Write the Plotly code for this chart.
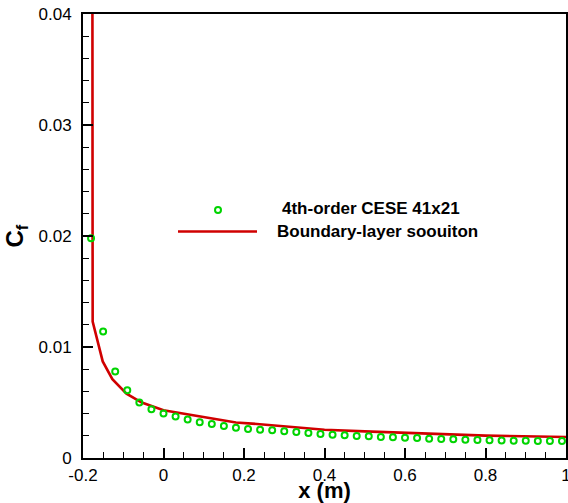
import plotly.graph_objects as go

# Skin-friction coefficient along the plate
# CESE solution (41x21 grid) sampled at the cell locations
cese_x = [-0.18, -0.15, -0.12, -0.09, -0.06, -0.03, 0.00, 0.03, 0.06, 0.09,
          0.12, 0.15, 0.18, 0.21, 0.24, 0.27, 0.30, 0.33, 0.36, 0.39,
          0.42, 0.45, 0.48, 0.51, 0.54, 0.57, 0.60, 0.63, 0.66, 0.69,
          0.72, 0.75, 0.78, 0.81, 0.84, 0.87, 0.90, 0.93, 0.96, 0.99]
cese_cf = [0.0198, 0.0114, 0.0078, 0.0061, 0.0050, 0.0044, 0.0040, 0.00373, 0.00346, 0.00321,
           0.00306, 0.00288, 0.00273, 0.00261, 0.00255, 0.00249, 0.00240, 0.00234, 0.00225, 0.00216,
           0.00210, 0.00204, 0.00198, 0.00195, 0.00189, 0.00186, 0.00183, 0.00180, 0.00173, 0.00171,
           0.00168, 0.00165, 0.00162, 0.00159, 0.00157, 0.00156, 0.00155, 0.00154, 0.00154, 0.00153]

# Boundary-layer (similarity) solution
bl_x = [-0.177, -0.176, -0.151, -0.127, -0.092, -0.054, 0.00, 0.05, 0.09,
        0.18, 0.22, 0.34, 0.40, 0.50, 0.60, 0.67, 0.80, 1.00]
bl_cf = [0.0600, 0.0123, 0.0087, 0.0071, 0.0058, 0.0050, 0.0043, 0.0040, 0.0037,
         0.0032, 0.0031, 0.00272, 0.00255, 0.00240, 0.00226, 0.00216, 0.00202, 0.00189]

x_ticks = [-0.2, 0, 0.2, 0.4, 0.6, 0.8, 1]
x_labels = ["-0.2", "0", "0.2", "0.4", "0.6", "0.8", "1"]
y_ticks = [0, 0.01, 0.02, 0.03, 0.04]
y_labels = ["0", "0.01", "0.02", "0.03", "0.04"]

legend_names = ["4th-order CESE 41x21", "Boundary-layer soouiton"]

GREEN = "#00d400"
RED = "#d00000"
FONT = "Liberation Sans, Arial, Helvetica, sans-serif"

W, H = 568, 503
ML, MR, MT, MB = 83, 2, 14, 45
PW, PH = W - ML - MR, H - MT - MB


def px_to_paper(px, py):
    return (px - ML) / PW, (H - MB - py) / PH


fig = go.Figure()
fig.add_trace(go.Scatter(
    x=bl_x, y=bl_cf, mode="lines", name=legend_names[1],
    line=dict(color=RED, width=2.6), showlegend=False,
))
fig.add_trace(go.Scatter(
    x=cese_x, y=cese_cf, mode="markers", name=legend_names[0],
    marker=dict(symbol="circle-open", size=6, color=GREEN, line=dict(color=GREEN, width=2)),
    showlegend=False,
))

axis_common = dict(
    showline=True, linecolor="black", linewidth=2, mirror=True,
    ticks="inside", tickcolor="black", tickwidth=2, ticklen=10,
    showgrid=False, zeroline=False,
    tickfont=dict(family=FONT, size=17, color="black"),
    ticklabeloverflow="allow",
)

fig.update_xaxes(
    range=[-0.2, 1.0], tickvals=x_ticks, ticktext=x_labels,
    minor=dict(dtick=0.05, ticks="inside", ticklen=6, tickwidth=1, tickcolor="black", showgrid=False),
    title=dict(text="<b>x (m)</b>", font=dict(family=FONT, size=22, color="black"), standoff=9),
    ticklabelstandoff=1,
    **axis_common,
)
fig.update_yaxes(
    range=[0, 0.04], tickvals=y_ticks, ticktext=y_labels,
    minor=dict(dtick=0.002, ticks="inside", ticklen=6, tickwidth=1, tickcolor="black", showgrid=False),
    title=dict(text="<b>C<sub>f</sub></b>", font=dict(family=FONT, size=24, color="black"), standoff=8),
    ticklabelstandoff=6,
    **axis_common,
)

# Hand-placed key inside the plot area
mx, my = px_to_paper(218, 210)
fig.add_shape(type="circle", xref="paper", yref="paper", xsizemode="pixel", ysizemode="pixel",
              xanchor=mx, yanchor=my, x0=-3, x1=3, y0=-3, y1=3,
              line=dict(color=GREEN, width=2))
lx0, ly = px_to_paper(178, 231.5)
lx1, _ = px_to_paper(257, 231.5)
fig.add_shape(type="line", xref="paper", yref="paper", x0=lx0, x1=lx1, y0=ly, y1=ly,
              line=dict(color=RED, width=2.6))
tx1, ty1 = px_to_paper(280, 209)
tx2, ty2 = px_to_paper(275, 231)
fig.add_annotation(x=tx1, y=ty1, xref="paper", yref="paper", xanchor="left", yanchor="middle",
                   text="<b>" + legend_names[0] + "</b>", showarrow=False,
                   font=dict(family=FONT, size=17, color="black"))
fig.add_annotation(x=tx2, y=ty2, xref="paper", yref="paper", xanchor="left", yanchor="middle",
                   text="<b>" + legend_names[1] + "</b>", showarrow=False,
                   font=dict(family=FONT, size=17, color="black"))

fig.update_layout(
    width=W, height=H,
    margin=dict(l=ML, r=MR, t=MT, b=MB, autoexpand=False),
    paper_bgcolor="white", plot_bgcolor="white",
    font=dict(family=FONT, color="black"),
    showlegend=False,
)

fig.write_html("out.html")
